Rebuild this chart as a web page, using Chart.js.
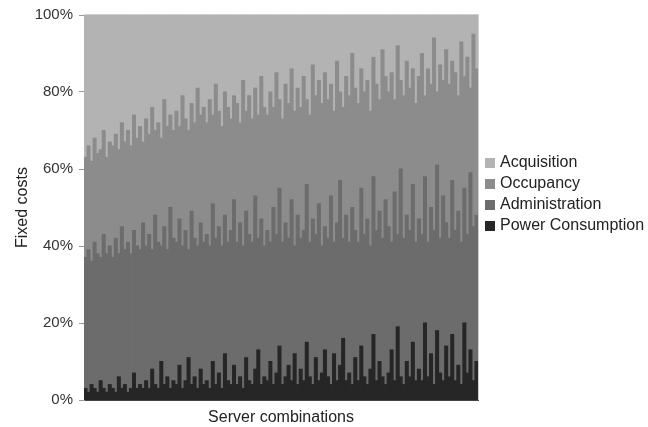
<!DOCTYPE html>
<html>
<head>
<meta charset="utf-8">
<script src="https://cdn.jsdelivr.net/npm/chart.js@4/dist/chart.umd.min.js"></script>
<style>
  html, body { margin:0; padding:0; background:#fff; }
  #wrap { position:relative; width:648px; height:427px; }
  #legend { position:absolute; left:485px; top:151px; font:16px "Liberation Sans", Arial, sans-serif; color:#222; }
  #legend div { height:21px; line-height:21px; white-space:nowrap; }
  #legend span { display:inline-block; width:10px; height:10px; margin-right:5px; vertical-align:-1px; }
</style>
</head>
<body>
<div id="wrap">
  <canvas id="chartCosts" width="648" height="427"></canvas>
  <div id="legend"></div>
</div>
<script>
// share of fixed costs (%) per server combination, read left to right
const powerConsumption = [
  3,2,4,3,2,5,3,2,4,3, 2,6,3,4,2,3,7,3,4,3, 5,3,8,4,3,10,4,6,3,5, 4,9,3,5,11,4,6,3,8,4,
  5,3,10,4,7,3,12,5,4,9, 4,6,3,11,5,4,8,13,4,6, 5,10,4,7,14,4,6,9,5,12, 4,8,5,15,6,4,11,5,7,13,
  6,4,12,5,9,16,5,7,4,11, 5,14,6,4,8,17,5,10,6,4, 7,13,5,19,6,4,10,6,15,5, 8,5,20,6,12,4,18,7,5,14,
  6,17,5,9,4,20,7,13,5,10
];
const administration = [
  34,37,32,38,36,32,40,36,36,34, 40,32,42,35,39,35,37,37,35,43, 35,40,31,44,38,30,41,33,47,37, 37,38,37,39,28,45,36,37,38,37,
  38,37,41,38,38,37,36,36,40,43, 37,40,37,38,38,37,45,29,43,34, 39,31,46,36,41,37,40,33,47,28, 44,34,39,41,35,43,32,46,33,32,
  36,49,29,41,48,26,43,34,46,33, 36,41,37,43,32,41,39,39,36,48, 38,28,49,24,54,38,38,38,41,36, 39,38,38,35,38,40,43,35,48,32,
  36,40,39,40,37,35,36,46,40,38
];
const occupancy = [
  26,27,26,27,26,28,27,25,27,29, 27,27,27,28,29,28,30,28,32,21, 33,26,37,22,31,28,33,32,24,28, 34,24,39,29,31,28,30,41,28,35,
  29,38,23,40,30,31,32,35,29,27, 36,26,43,26,36,32,28,32,37,36, 30,39,26,42,23,32,36,35,34,35, 33,34,40,22,33,40,36,32,37,40,
  36,29,34,42,23,34,36,38,40,37, 36,31,37,36,35,31,38,29,49,32, 35,44,24,49,23,37,40,37,30,36, 37,47,21,45,32,50,19,45,30,45,
  40,31,41,30,52,29,46,22,50,38
];
const acquisition = [
  37,34,38,32,36,35,30,37,33,34, 31,35,28,33,30,34,26,32,29,33, 27,31,24,30,28,32,22,29,26,30, 25,29,21,27,30,23,28,19,26,24,
  28,22,26,18,25,29,20,24,27,21, 23,28,17,25,21,27,19,26,16,24, 26,20,24,15,22,27,18,23,14,25, 19,24,16,22,26,13,21,17,23,15,
  22,18,25,12,20,24,16,21,10,19, 23,14,20,17,25,11,18,22,9,16, 20,15,22,8,17,21,12,19,14,23, 16,10,21,14,18,6,20,13,17,9,
  18,12,15,21,7,16,11,19,5,14
];
const yTicks = [0, 20, 40, 60, 80, 100];

const FONT = "'Liberation Sans', Arial, sans-serif";
const combos = powerConsumption.map((_, i) => i + 1);

const series = [
  { label:"Power Consumption", data:powerConsumption, color:"#262626" },
  { label:"Administration",    data:administration,   color:"#6c6c6c" },
  { label:"Occupancy",         data:occupancy,        color:"#8c8c8c" },
  { label:"Acquisition",       data:acquisition,      color:"#b3b3b3" }
];

// light frame round the plot, like the original
const frame = {
  id:"frame",
  afterDatasetsDraw(chart){
    const {ctx, chartArea:a} = chart;
    ctx.save();
    ctx.strokeStyle = "#cfcfcf"; ctx.lineWidth = 1;
    ctx.beginPath();
    ctx.moveTo(a.left, a.top - 0.5); ctx.lineTo(a.right + 0.5, a.top - 0.5); ctx.lineTo(a.right + 0.5, a.bottom);
    ctx.stroke();
    ctx.restore();
  }
};

const chart = new Chart(document.getElementById("chartCosts").getContext("2d"), {
  type:"bar",
  data:{
    labels: combos,
    datasets: series.map(s => ({
      label:s.label, data:s.data, backgroundColor:s.color, borderWidth:0,
      barPercentage:1, categoryPercentage:1, inflateAmount:0.5
    }))
  },
  options:{
    responsive:false, animation:false,
    layout:{ padding:{ top:15, right:170, left:0, bottom:0 } },
    plugins:{ legend:{ display:false }, tooltip:{ enabled:false } },
    scales:{
      x:{
        stacked:true,
        grid:{ display:false },
        border:{ display:true, color:"#444" },
        ticks:{ display:false },
        title:{ display:true, text:"Server combinations", color:"#222", font:{ family:FONT, size:16 }, padding:{ top:0, bottom:0 } },
        afterFit(s){ s.height = 27; }
      },
      y:{
        stacked:true, min:0, max:100,
        afterBuildTicks(s){ s.ticks = yTicks.map(v => ({ value:v })); },
        ticks:{ color:"#333", padding:6, font:{ family:FONT, size:15 }, callback:v => v + "%" },
        grid:{ drawOnChartArea:false, drawTicks:true, tickLength:5, color:"#999" },
        border:{ display:true, color:"#999" },
        title:{ display:true, text:"Fixed costs", color:"#222", font:{ family:FONT, size:16 }, padding:{ top:13, bottom:0 } },
        afterFit(s){ s.width = 84; }
      }
    }
  },
  plugins:[frame]
});

// legend, top item = top of the stack
const lg = document.getElementById("legend");
[...series].reverse().forEach(s => {
  const row = document.createElement("div");
  const sw = document.createElement("span");
  sw.style.background = s.color;
  row.appendChild(sw);
  row.appendChild(document.createTextNode(s.label));
  lg.appendChild(row);
});
</script>
</body>
</html>
